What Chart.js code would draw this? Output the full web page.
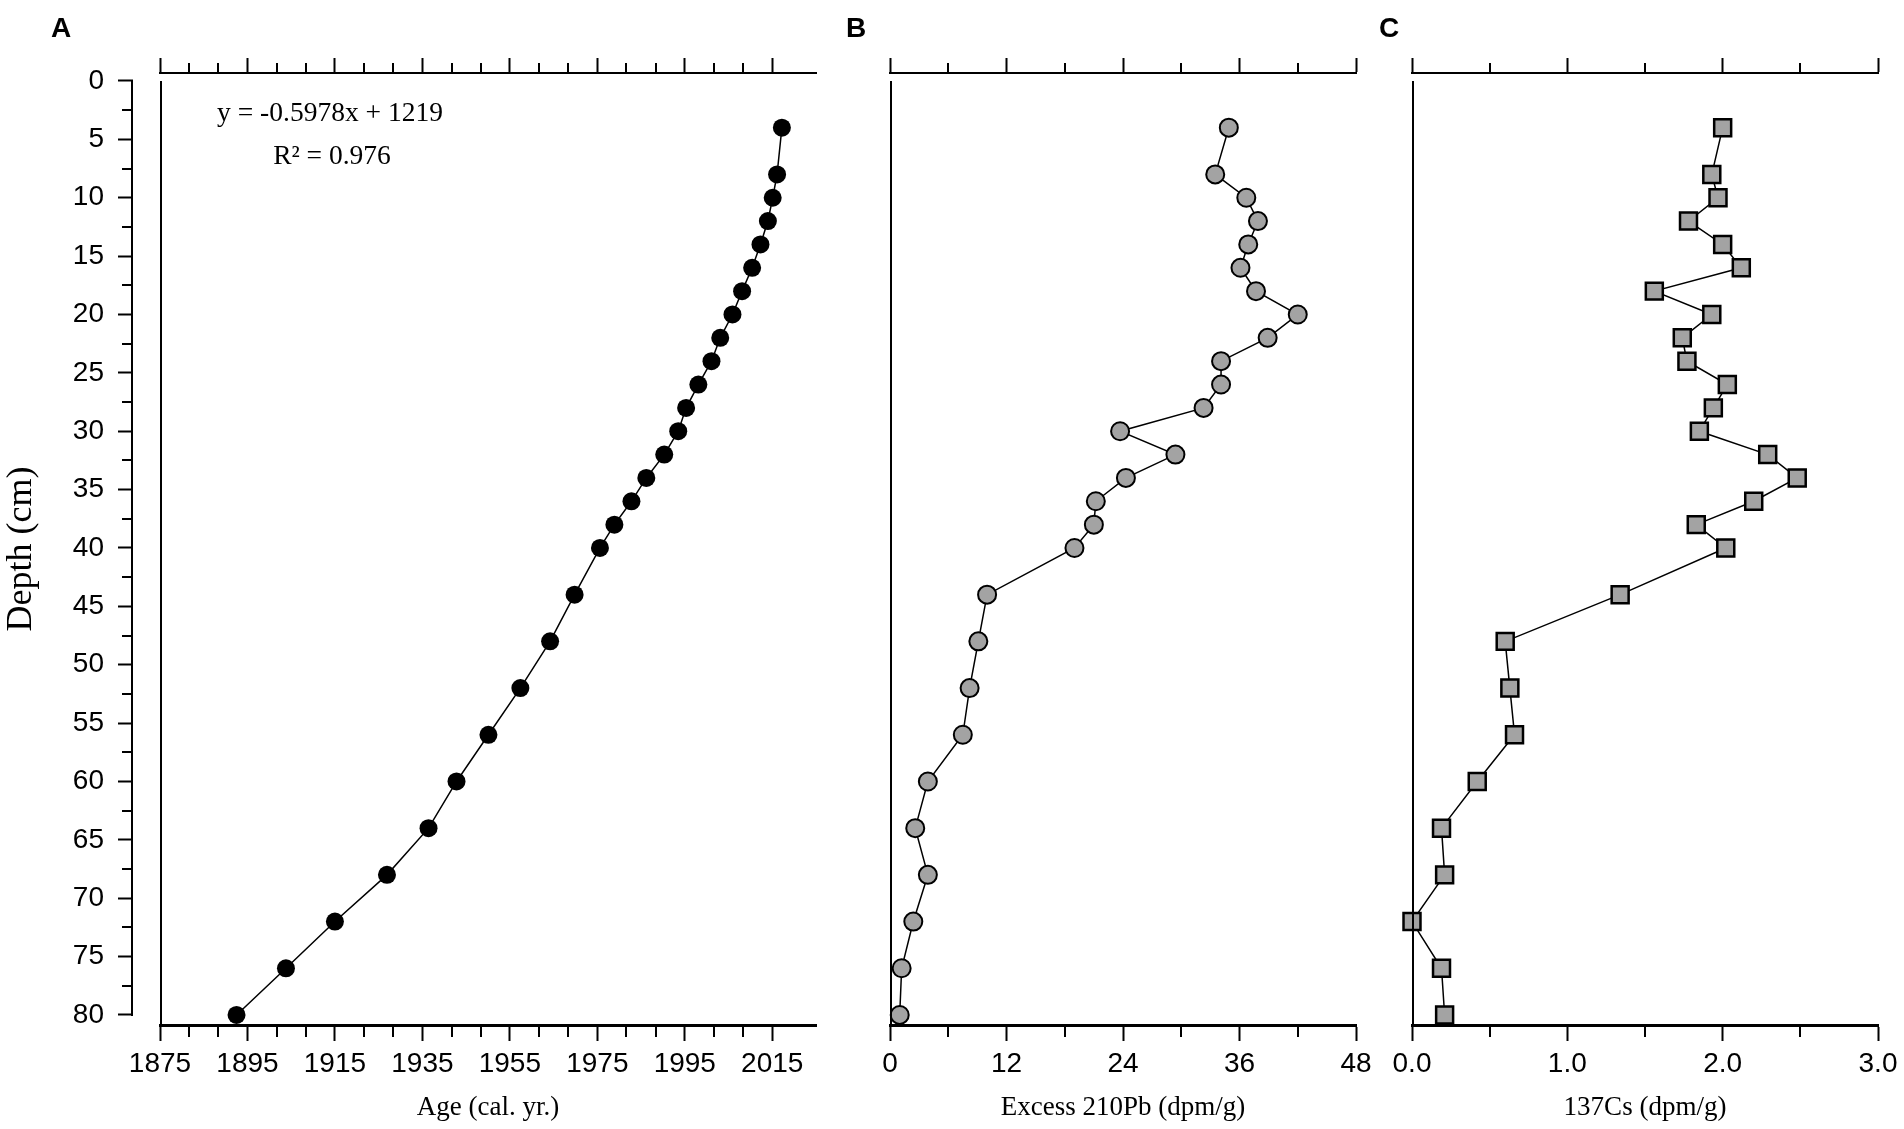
<!DOCTYPE html>
<html>
<head>
<meta charset="utf-8">
<title>Core chronology</title>
<script src="https://cdn.jsdelivr.net/npm/chart.js@4.4.1/dist/chart.umd.min.js"></script>
<style>
  body { margin: 0; background: #fff; }
  #page { position: relative; width: 1904px; height: 1129px; overflow: hidden; background: #fff; }
  canvas { position: absolute; left: 0; top: 0; }
  .panel { position: absolute; font: bold 28px "Liberation Sans", Arial, sans-serif; line-height: 28px; }
  .eq { position: absolute; width: 300px; text-align: center; font: 27.5px "Liberation Serif", "Times New Roman", serif; line-height: 27px; white-space: nowrap; }
</style>
</head>
<body>
<div id="page">
  <canvas id="chartA" width="1904" height="1129"></canvas>
  <canvas id="chartB" width="1904" height="1129"></canvas>
  <canvas id="chartC" width="1904" height="1129"></canvas>
  <div class="panel" style="left:51px;top:14px">A</div>
  <div class="panel" style="left:846px;top:14px">B</div>
  <div class="panel" style="left:1379px;top:14px">C</div>
  <div class="eq" style="left:180px;top:98px">y = -0.5978x + 1219</div>
  <div class="eq" style="left:182px;top:141px">R² = 0.976</div>
</div>
<script>
// sample depths (cm), shared by the three profiles
const depths = [4, 8, 10, 12, 14, 16, 18, 20, 22, 24, 26, 28, 30, 32, 34, 36, 38, 40,
                44, 48, 52, 56, 60, 64, 68, 72, 76, 80];
// A: age model
const ageYears = [2017.2, 2016.1, 2015.1, 2014.0, 2012.3, 2010.4, 2008.1, 2005.9, 2003.1, 2001.1,
                  1998.1, 1995.3, 1993.5, 1990.3, 1986.2, 1982.8, 1978.9, 1975.6, 1969.8, 1964.2,
                  1957.4, 1950.1, 1942.8, 1936.4, 1926.9, 1915.0, 1903.8, 1892.5];
// B: excess 210Pb (dpm/g)
const pb210 = [34.9, 33.5, 36.7, 37.9, 36.9, 36.1, 37.7, 42.0, 38.9, 34.1,
               34.1, 32.3, 23.7, 29.4, 24.3, 21.2, 21.0, 19.0, 10.0, 9.1,
               8.2, 7.5, 3.9, 2.6, 3.9, 2.4, 1.2, 1.0];
// C: 137Cs (dpm/g)
const cs137 = [2.00, 1.93, 1.97, 1.78, 2.00, 2.12, 1.56, 1.93, 1.74, 1.77,
               2.03, 1.94, 1.85, 2.29, 2.48, 2.20, 1.83, 2.02, 1.34, 0.60,
               0.63, 0.66, 0.42, 0.19, 0.21, 0.00, 0.19, 0.21];

// tick labels
const depthTicks = [0, 5, 10, 15, 20, 25, 30, 35, 40, 45, 50, 55, 60, 65, 70, 75, 80];
const ageTicks = [1875, 1895, 1915, 1935, 1955, 1975, 1995, 2015];
const pbTicks = [0, 12, 24, 36, 48];
const csTicks = [0, 1, 2, 3];
const csLabels = ['0.0', '1.0', '2.0', '3.0'];

const SANS = '"Liberation Sans", Arial, sans-serif';
const SERIF = '"Liberation Serif", "Times New Roman", serif';

// depth range slightly wider than 0-80 so the top axis sits above 0
const DEPTH_MIN = -0.685;
const DEPTH_MAX = 80.86;

Chart.defaults.color = '#000';
Chart.defaults.font.family = SANS;

// left frame line, offset depth axis line and minor ticks
const axisDecor = {
  id: 'axisDecor',
  afterDraw(chart, args, opts) {
    const { ctx, chartArea: a, scales } = chart;
    const y = scales.y;
    ctx.save();
    ctx.strokeStyle = '#000';
    ctx.lineCap = 'butt';

    ctx.lineWidth = 2;
    ctx.beginPath();
    ctx.moveTo(a.left + 1, y.getPixelForValue(depthTicks[0]));
    ctx.lineTo(a.left + 1, a.bottom);
    ctx.stroke();

    if (opts.depthAxis) {
      const xr = y.right - 1;
      ctx.beginPath();
      ctx.moveTo(xr, y.getPixelForValue(depthTicks[0]) - 1);
      ctx.lineTo(xr, y.getPixelForValue(depthTicks[depthTicks.length - 1]) + 1);
      ctx.stroke();
      for (let i = 0; i < depthTicks.length - 1; i++) {
        const py = Math.round(y.getPixelForValue((depthTicks[i] + depthTicks[i + 1]) / 2));
        ctx.beginPath();
        ctx.moveTo(y.right - 11, py);
        ctx.lineTo(y.right, py);
        ctx.stroke();
      }
    }

    const xs = scales.x;
    const vals = opts.xTicks;
    const n = opts.minorCount;
    for (let i = 0; i < vals.length - 1; i++) {
      const step = (vals[i + 1] - vals[i]) / (n + 1);
      for (let k = 1; k <= n; k++) {
        const px = Math.round(xs.getPixelForValue(vals[i] + k * step));
        ctx.beginPath();
        ctx.moveTo(px, a.bottom);
        ctx.lineTo(px, a.bottom + 12);
        ctx.moveTo(px, a.top);
        ctx.lineTo(px, a.top - 10);
        ctx.stroke();
      }
    }
    ctx.restore();
  }
};

function makePanel(id, p) {
  const setTicks = list => scale => { scale.ticks = list.map(v => ({ value: v })); };
  const scales = {
    x: {
      type: 'linear', position: 'bottom', min: p.xMin, max: p.xMax,
      afterBuildTicks: setTicks(p.xTicks),
      afterFit: s => { s.height = 104; },
      grid: { drawOnChartArea: false, drawTicks: true, tickLength: 16, tickWidth: 2, tickColor: '#000' },
      border: { display: true, color: '#000', width: 3 },
      ticks: {
        autoSkip: false, maxRotation: 0, padding: 6, color: '#000',
        font: { family: SANS, size: 28 },
        callback: (v, i) => p.xLabels ? p.xLabels[i] : String(v)
      },
      title: { display: true, text: p.xTitle, color: '#000',
               font: { family: SERIF, size: 27 }, padding: { top: 0, bottom: 5 } }
    },
    xTop: {
      type: 'linear', position: 'top', min: p.xMin, max: p.xMax,
      afterBuildTicks: setTicks(p.xTicks),
      afterFit: s => { s.height = 73; },
      grid: { drawOnChartArea: false, drawTicks: true, tickLength: 15, tickWidth: 2, tickColor: '#000' },
      border: { display: true, color: '#000', width: 2 },
      ticks: { display: false }
    },
    y: {
      type: 'linear', position: 'left', reverse: true, min: DEPTH_MIN, max: DEPTH_MAX,
      display: p.depthAxis, weight: 1,
      afterBuildTicks: setTicks(depthTicks),
      afterFit: s => { s.width = p.depthAxis ? 133 : 0; },
      grid: { drawOnChartArea: false, drawTicks: true, tickLength: 15, tickWidth: 2, tickColor: '#000' },
      border: { display: false },
      ticks: { autoSkip: false, padding: 14, color: '#000', font: { family: SANS, size: 28 } },
      title: { display: true, text: 'Depth (cm)', color: '#000',
               font: { family: SERIF, size: 36 }, padding: { top: 0, bottom: 0 } }
    }
  };
  if (p.depthAxis) {
    scales.yGap = {
      type: 'linear', position: 'left', weight: 0,
      afterFit: s => { s.width = 27; },
      grid: { display: false }, border: { display: false }, ticks: { display: false }
    };
  }
  return new Chart(document.getElementById(id), {
    type: 'scatter',
    data: {
      datasets: [{
        data: depths.map((d, i) => ({ x: p.values[i], y: d })),
        xAxisID: 'x', yAxisID: 'y',
        showLine: true,
        borderColor: '#000', borderWidth: 1.5,
        pointStyle: p.pointStyle, pointRadius: p.pointRadius,
        pointBackgroundColor: p.fill, pointBorderColor: '#000',
        pointBorderWidth: p.pointBorderWidth,
        clip: false
      }]
    },
    options: {
      responsive: false, animation: false, events: [],
      layout: { padding: { left: p.left, right: p.right, top: 0, bottom: 0 } },
      plugins: {
        legend: { display: false }, tooltip: { enabled: false },
        axisDecor: { depthAxis: p.depthAxis, xTicks: p.xTicks, minorCount: p.minorCount }
      },
      scales
    },
    plugins: [axisDecor]
  });
}

// A: age-depth model
makePanel('chartA', {
  values: ageYears, xMin: 1875, xMax: 2025, xTicks: ageTicks, minorCount: 2,
  xTitle: 'Age (cal. yr.)', depthAxis: true, left: 0, right: 1904 - 816,
  pointStyle: 'circle', pointRadius: 9, fill: '#000', pointBorderWidth: 0
});

// B: excess 210Pb
makePanel('chartB', {
  values: pb210, xMin: 0, xMax: 48, xTicks: pbTicks, minorCount: 1,
  xTitle: 'Excess 210Pb (dpm/g)', depthAxis: false, left: 890, right: 1904 - 1356,
  pointStyle: 'circle', pointRadius: 9, fill: '#a3a3a3', pointBorderWidth: 2
});

// C: 137Cs
makePanel('chartC', {
  values: cs137, xMin: 0, xMax: 3, xTicks: csTicks, xLabels: csLabels, minorCount: 1,
  xTitle: '137Cs (dpm/g)', depthAxis: false, left: 1412, right: 1904 - 1878,
  pointStyle: 'rect', pointRadius: 12, fill: '#a3a3a3', pointBorderWidth: 2.5
});
</script>
</body>
</html>
